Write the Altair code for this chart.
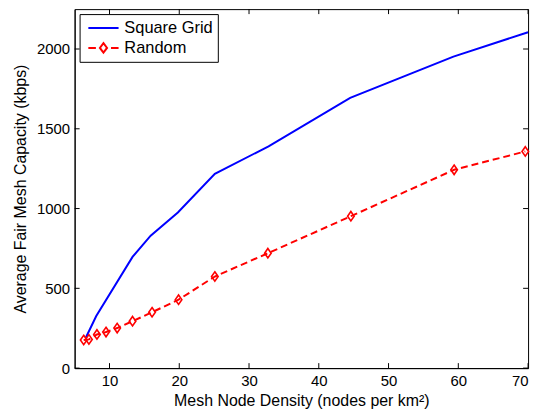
import altair as alt
import pandas as pd

# Data
square_x = [6.6, 8.1, 13.3, 15.9, 19.8, 25.1, 32.8, 44.5, 59.3, 70.0]
square_y = [190, 326, 697, 830, 975, 1218, 1390, 1694, 1952, 2105]
random_x = [6.3, 7.05, 8.2, 9.5, 11.1, 13.3, 16.1, 19.9, 25.1, 32.7, 44.6, 59.4, 69.6]
random_y = [176, 180, 211, 226, 251, 294, 350, 429, 574, 720, 952, 1243, 1358]
series_names = ["Square Grid", "Random"]
series_colors = ["#0000ff", "#ff0000"]
x_ticks = [10, 20, 30, 40, 50, 60, 70]
y_ticks = [0, 500, 1000, 1500, 2000]

X_MIN, X_MAX = 5, 70
Y_MIN, Y_MAX = 0, 2250

df_square = pd.DataFrame({"density": square_x, "capacity": square_y, "series": series_names[0]})
df_random = pd.DataFrame({"density": random_x, "capacity": random_y, "series": series_names[1]})
df_all = pd.concat([df_square, df_random])
df_xt = pd.DataFrame({"density": x_ticks})
df_yt = pd.DataFrame({"capacity": y_ticks})

W, H = 456, 361
FONT = "Liberation Sans"
TK = 5  # inward tick length in pixels
tx = TK * (X_MAX - X_MIN) / W   # tick length in x data units
ty = TK * (Y_MAX - Y_MIN) / H   # tick length in y data units

xs = alt.Scale(domain=[X_MIN, X_MAX], nice=False, zero=False)
ys = alt.Scale(domain=[Y_MIN, Y_MAX], nice=False, zero=False)
cs = alt.Scale(domain=series_names, range=series_colors)

diamond = "M0,-1L0.7,0L0,1L-0.7,0Z"
legend_line = "M-1.9,0H1.9"
legend_random = "M-1.9,0H-0.95M0.95,0H1.9M0,-0.6L0.45,0L0,0.6L-0.45,0Z"

X = alt.X("density:Q", scale=xs, axis=alt.Axis(
    orient="bottom", values=x_ticks, ticks=False, title="Mesh Node Density (nodes per km²)",
    labelPadding=6, titlePadding=4, grid=False, format="d"))
Y = alt.Y("capacity:Q", scale=ys, axis=alt.Axis(
    orient="left", values=y_ticks, ticks=False, title="Average Fair Mesh Capacity (kbps)",
    labelPadding=5, titlePadding=8, grid=False, format="d"))

square_line = alt.Chart(df_square).mark_line(strokeWidth=2, clip=True, color="#0000ff").encode(x=X, y=Y)
random_line = alt.Chart(df_random).mark_line(strokeWidth=2, clip=True, color="#ff0000",
                                             strokeDash=[7, 4]).encode(x=X, y=Y)
random_pts = alt.Chart(df_random).mark_point(shape=diamond, size=90, strokeWidth=1.6, color="#ff0000",
                                             filled=False, opacity=1).encode(x=X, y=Y)

legend_cfg = alt.Legend(
    title=None, orient="top-left", offset=5, fillColor="white",
    strokeColor="black", padding=5, symbolSize=256, symbolStrokeWidth=2,
    symbolOpacity=1, symbolFillColor="transparent", symbolOffset=10,
    labelFontSize=16.5, labelFont=FONT, labelColor="black", labelOffset=12, rowPadding=2)

legend_carrier = alt.Chart(df_all).transform_filter(alt.datum.capacity < 0).mark_point(filled=False).encode(
    x=X, y=Y,
    color=alt.Color("series:N", scale=cs, sort=series_names, legend=legend_cfg),
    shape=alt.Shape("series:N", scale=alt.Scale(domain=series_names, range=[legend_line, legend_random]),
                    sort=series_names, legend=legend_cfg),
)

rule = dict(color="black", strokeWidth=1)
xt_bottom = alt.Chart(df_xt).transform_calculate(a=f"{Y_MIN}", b=f"{Y_MIN + ty}").mark_rule(**rule).encode(
    x=X, y="a:Q", y2="b:Q")
xt_top = alt.Chart(df_xt).transform_calculate(a=f"{Y_MAX}", b=f"{Y_MAX - ty}").mark_rule(**rule).encode(
    x=X, y="a:Q", y2="b:Q")
yt_left = alt.Chart(df_yt).transform_calculate(a=f"{X_MIN}", b=f"{X_MIN + tx}").mark_rule(**rule).encode(
    y=Y, x="a:Q", x2="b:Q")
yt_right = alt.Chart(df_yt).transform_calculate(a=f"{X_MAX}", b=f"{X_MAX - tx}").mark_rule(**rule).encode(
    y=Y, x="a:Q", x2="b:Q")

chart = alt.layer(square_line, random_line, random_pts, xt_bottom, xt_top, yt_left, yt_right,
                  legend_carrier).properties(
    width=W, height=H,
    autosize=alt.AutoSizeParams(type="none"),
    padding={"left": 67, "top": 0, "right": 12, "bottom": 40},
).configure(background="white").configure_view(stroke="black", strokeWidth=1).configure_axis(
    labelFont=FONT, titleFont=FONT, labelFontSize=15, titleFontSize=16, titleFontWeight="normal",
    labelColor="black", titleColor="black", domainColor="black", tickColor="black",
    domainWidth=1, tickWidth=1,
)

chart.save("out.html", embed_options={"renderer": "svg", "actions": False})
